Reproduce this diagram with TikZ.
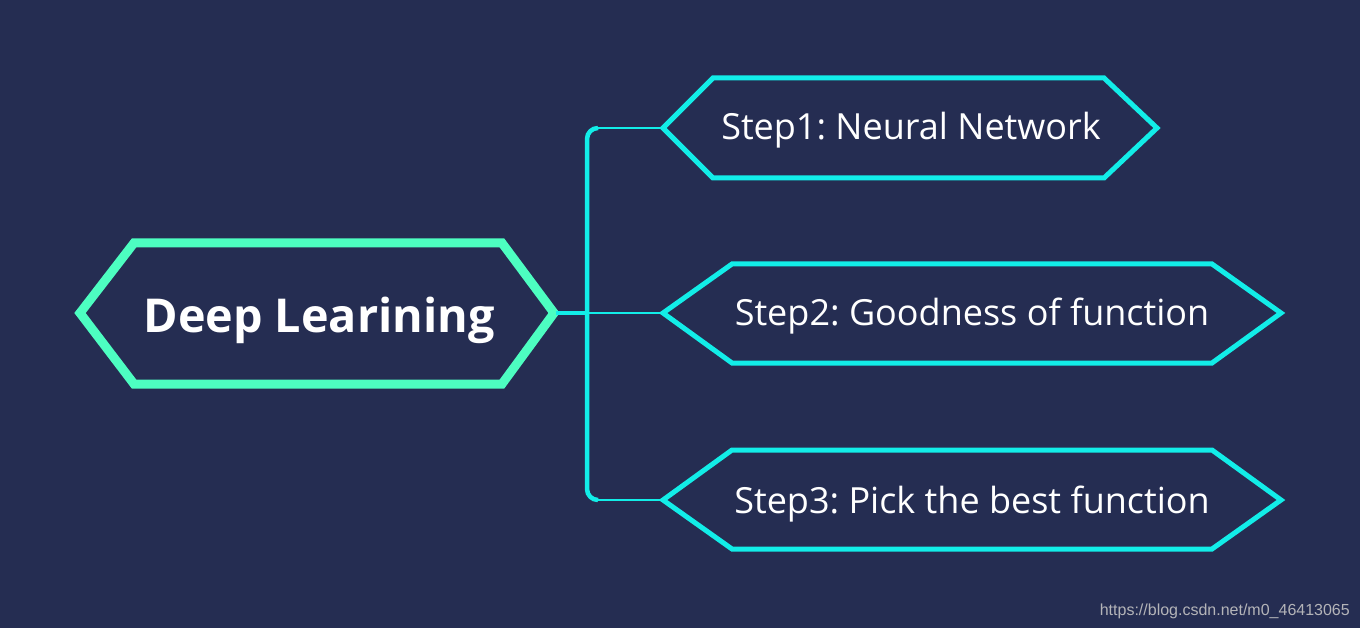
\documentclass[tikz,border=0pt]{standalone}
\usepackage{fontspec}
\setmainfont{Open Sans}
\newfontfamily\wmfont{Liberation Sans}
\frenchspacing
\definecolor{bgnavy}{HTML}{252D52}
\definecolor{mint}{HTML}{4DFEC1}
\definecolor{cyanline}{HTML}{12EDE8}
\definecolor{wmgray}{HTML}{B4B4B8}
\tikzset{
  mainhex/.style={draw=mint, line width=9pt, line join=miter},
  stephex/.style={draw=cyanline, line width=5pt, line join=miter},
  maintext/.style={text=white, font=\fontsize{46.7}{56}\selectfont\bfseries, inner sep=0pt, anchor=base},
  steptext/.style={text=white, font=\fontsize{36}{42}\selectfont, inner sep=0pt, anchor=base},
  thinlink/.style={draw=cyanline, line width=2.5pt},
  thicklink/.style={draw=cyanline, line width=4.5pt},
}
\begin{document}
\begin{tikzpicture}[x=1pt,y=-1pt]
\fill[bgnavy] (0,0) rectangle (1360,628);
\useasboundingbox (0,0) rectangle (1360,628);
% main hexagon
\draw[mainhex] (80,313) -- (134,243) -- (502,243) -- (554,313) -- (502,384) -- (134,384) -- cycle;
\node[maintext] (main) at (319,332) {Deep Learining};
\coordinate (mainR) at (556,313);
% step hexagons
\draw[stephex] (663,128) -- (713,78) -- (1104,78) -- (1157,128) -- (1104,178) -- (713,178) -- cycle;
\node[steptext] (s1) at (911,140) {Step1: Neural Network};
\coordinate (s1L) at (662,128);
\draw[stephex] (663,313) -- (732,264) -- (1212,264) -- (1281,313) -- (1212,363) -- (732,363) -- cycle;
\node[steptext] (s2) at (972,326) {Step2: Goodness of function};
\coordinate (s2L) at (662,313);
\draw[stephex] (663,500) -- (732,450) -- (1212,450) -- (1281,500) -- (1212,549) -- (732,549) -- cycle;
\node[steptext] (s3) at (972,513) {Step3: Pick the best function};
\coordinate (s3L) at (662,500);
% connectors
\coordinate (jtop) at (587,128);
\coordinate (jmid) at (587,313);
\coordinate (jbot) at (587,500);
\coordinate (jtopE) at (598,128);
\coordinate (jbotE) at (598,500);
\draw[thinlink] (jtopE) -- (s1L);
\draw[thinlink] (jbotE) -- (s3L);
\draw[thicklink, rounded corners=11pt] (jtopE) -- (jtop) -- (jbot) -- (jbotE);
\draw[thicklink] (mainR) -- (jmid);
\draw[thinlink] (jmid) -- (s2L);
% watermark
\node[text=wmgray, font=\wmfont\fontsize{16}{18}\selectfont, anchor=base east, inner sep=0pt] (wm) at (1350,615) {https://blog.csdn.net/m0\_46413065};
\end{tikzpicture}
\end{document}
